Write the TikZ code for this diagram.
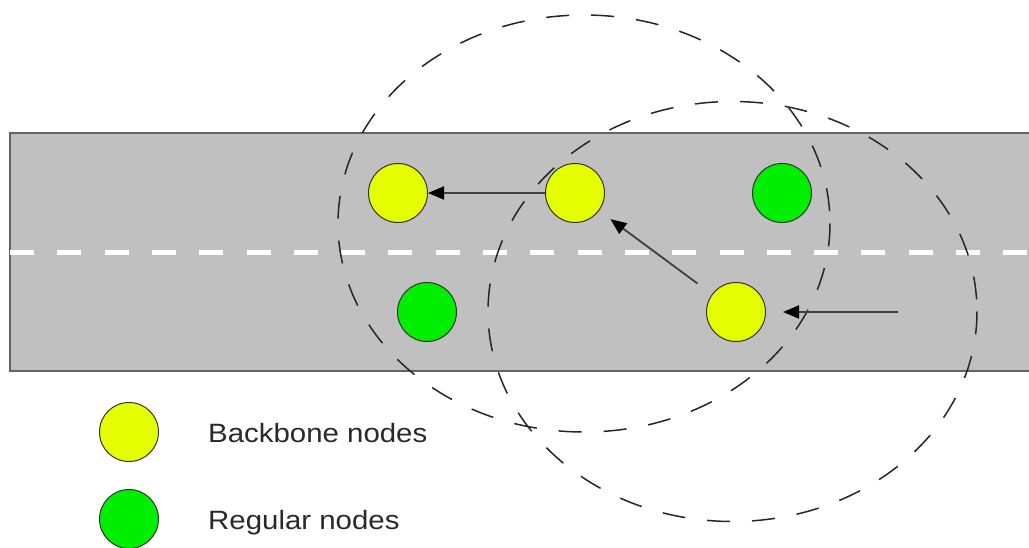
\documentclass[tikz,border=0pt]{standalone}
\usepackage{fontspec}
\setsansfont{Liberation Sans}
\usetikzlibrary{arrows.meta}
\definecolor{roadgray}{RGB}{192,192,192}
\definecolor{edgegray}{RGB}{100,100,100}
\definecolor{bbyellow}{RGB}{230,255,0}
\definecolor{reggreen}{RGB}{0,238,0}
\definecolor{textgray}{RGB}{40,40,45}
\tikzset{
  bbnode/.style={circle,draw=black!80,line width=1pt,fill=bbyellow,minimum size=59pt,inner sep=0pt},
  regnode/.style={circle,draw=black!80,line width=1pt,fill=reggreen,minimum size=59pt,inner sep=0pt},
  radiorange/.style={draw=black!85,line width=1.5pt,dash pattern=on 23pt off 22pt},
  hop/.style={draw=black!75,line width=1.8pt,-{Triangle[length=16pt,width=13pt,color=black]}},
  legtext/.style={font=\sffamily\fontsize{26.5}{30}\selectfont,text=textgray,anchor=base west,inner sep=0pt,xscale=1.11,transform shape}
}
\begin{document}
\begin{tikzpicture}[x=1pt,y=-1pt]
\useasboundingbox (0,0) rectangle (1029,548);
\fill[roadgray] (10,133) rectangle (1029,371);
\draw[edgegray,line width=2pt] (1029,133) -- (10,133) -- (10,371) -- (1029,371);
\draw[white,line width=5pt,dash pattern=on 24pt off 23.3pt] (10,253) -- (1029,253);

\draw[radiorange] (584,223.5) ellipse [x radius=246, y radius=208.5];
\draw[radiorange] (732.5,311.5) ellipse [x radius=244.5, y radius=210];

\node[bbnode] (b1) at (398,193) {};
\node[bbnode] (b2) at (575,193) {};
\node[regnode] (r1) at (782,193) {};
\node[regnode] (r2) at (427,312) {};
\node[bbnode] (b3) at (736,312) {};
\coordinate (in) at (898,312);

\draw[hop] (b2) -- (b1);
\draw[hop,shorten <=18pt,shorten >=14pt] (b3) -- (b2);
\draw[hop,shorten >=17pt] (in) -- (b3);

\node[bbnode] (lb) at (129,432) {};
\node[regnode] (lr) at (129,519) {};
\node[legtext] (lbtext) at (208,442) {Backbone nodes};
\node[legtext] (lrtext) at (208,529) {Regular nodes};
\end{tikzpicture}
\end{document}
